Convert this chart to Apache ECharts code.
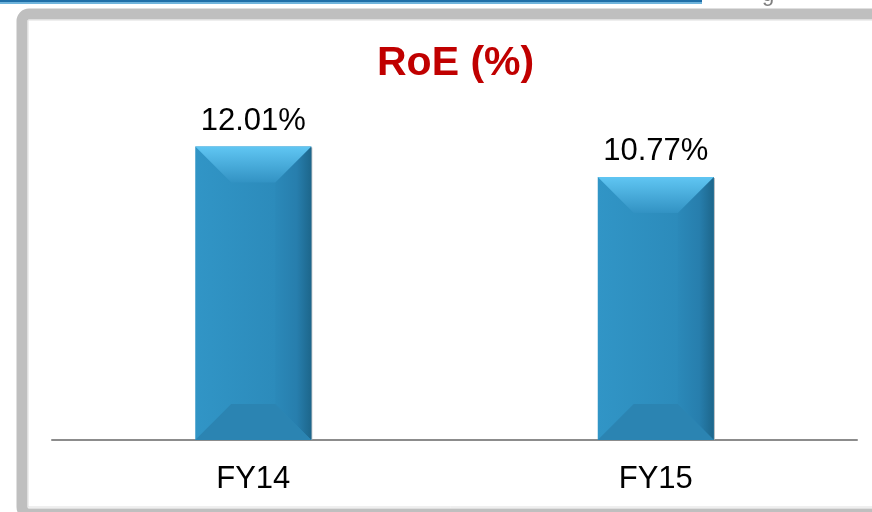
<!DOCTYPE html>
<html>
<head>
<meta charset="utf-8">
<script src="https://cdn.jsdelivr.net/npm/echarts@6/dist/echarts.min.js"></script>
<style>
  html, body { margin: 0; padding: 0; background: #fff; }
  #chart { width: 872px; height: 512px; }
</style>
</head>
<body>
<div id="chart"></div>
<script>
// data
const categories = ['FY14', 'FY15'];
const roeValues = [12.01, 10.77];
const valueLabels = ['12.01%', '10.77%'];

const chart = echarts.init(document.getElementById('chart'), null, { renderer: 'canvas' });

// bevelled bar, drawn from the axis coordinates
function renderBar(params, api) {
  const idx = api.value(0);
  const top = api.coord([idx, api.value(1)]);
  const base = api.coord([idx, 0]);
  const w = 116;
  const x0 = top[0] - w / 2, x1 = top[0] + w / 2;
  const y0 = top[1], y1 = base[1];
  const b = Math.min(36, (y1 - y0) / 3);
  const poly = (pts, fill) => ({ type: 'polygon', shape: { points: pts }, style: { fill: fill } });
  return {
    type: 'group',
    children: [
      { type: 'rect', shape: { x: x0 + 1, y: y0 + 1, width: w, height: y1 - y0 - 1 }, style: { fill: '#a7adb1' } },
      { type: 'rect', shape: { x: x0, y: y0, width: w, height: y1 - y0 },
        style: { fill: new echarts.graphic.LinearGradient(0, 0, 1, 0, [
          { offset: 0, color: '#3195c6' }, { offset: 0.69, color: '#2c8bbb' }, { offset: 1, color: '#2a86b5' }]) } },
      poly([[x1, y0], [x1 - b, y0 + b], [x1 - b, y1 - b], [x1, y1]],
        new echarts.graphic.LinearGradient(0, 0, 1, 0, [
          { offset: 0, color: '#2b89b9' }, { offset: 0.6, color: '#277ead' }, { offset: 1, color: '#1d668b' }])),
      poly([[x0, y0], [x1, y0], [x1 - b, y0 + b], [x0 + b, y0 + b]],
        new echarts.graphic.LinearGradient(0, 0, 0, 1, [
          { offset: 0, color: '#60c6f3' }, { offset: 1, color: '#3292c3' }])),
      poly([[x0, y1], [x1, y1], [x1 - b, y1 - b], [x0 + b, y1 - b]], '#2b84b2'),
      { type: 'text', style: { text: valueLabels[idx], x: top[0], y: y0 - 10,
        align: 'center', verticalAlign: 'bottom',
        font: '31px "Liberation Sans", Arial, sans-serif', fill: '#000' } }
    ]
  };
}

chart.setOption({
  backgroundColor: '#fff',
  animation: false,
  title: {
    text: 'RoE (%)',
    left: 372,
    top: 38,
    textStyle: { color: '#c00000', fontSize: 41, fontWeight: 'bold', fontFamily: '"Liberation Sans", Arial, sans-serif' }
  },
  graphic: [
    { type: 'rect', shape: { x: 0, y: 0, width: 702, height: 2 }, style: { fill: '#1f6fa8' } },
    { type: 'rect', shape: { x: 0, y: 2, width: 702, height: 2 }, style: { fill: '#6fb4dc' } },
    { type: 'text', style: { text: 'g', x: 762, y: -16, verticalAlign: 'top',
      font: '22px "Liberation Sans", Arial, sans-serif', fill: '#7f7f7f' } },
    { type: 'rect', shape: { x: 22, y: 14, width: 900, height: 500, r: 7 },
      style: { fill: 'none', stroke: '#bfbfbf', lineWidth: 11 } },
    { type: 'rect', shape: { x: 28, y: 20, width: 900, height: 487 },
      style: { fill: 'none', stroke: '#dedede', lineWidth: 1 } }
  ],
  grid: { left: 52, right: 15, top: 98, bottom: 72 },
  xAxis: {
    type: 'category',
    data: categories,
    axisTick: { show: false },
    axisLine: { lineStyle: { color: '#8c8c8c', width: 2 } },
    axisLabel: { fontSize: 31, color: '#000', margin: 24, fontFamily: '"Liberation Sans", Arial, sans-serif' }
  },
  yAxis: { type: 'value', min: 0, max: 14, show: false },
  series: [{
    type: 'custom',
    renderItem: renderBar,
    encode: { x: 0, y: 1 },
    data: roeValues.map((v, i) => [i, v]),
    z: 1
  }]
});
</script>
</body>
</html>
